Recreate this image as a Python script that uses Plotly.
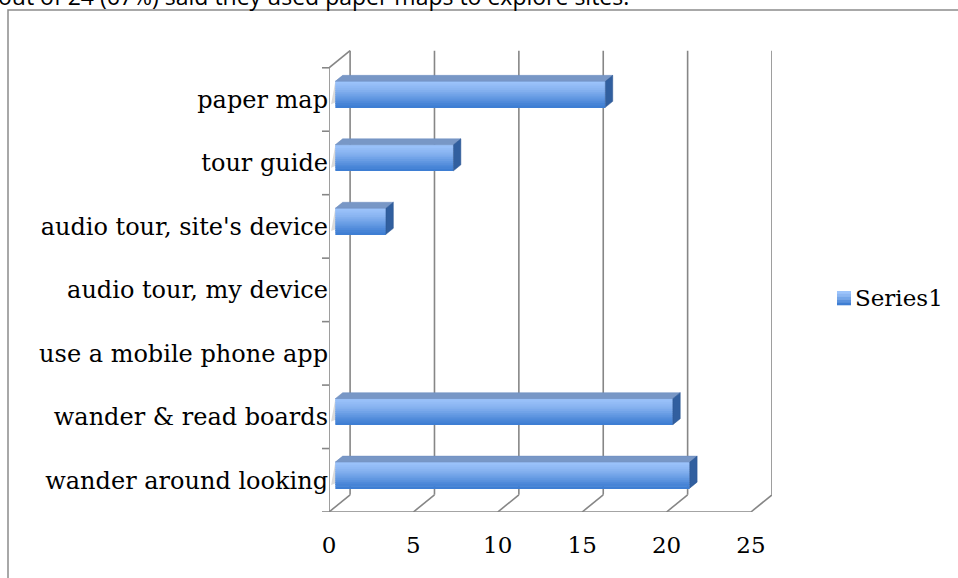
import plotly.graph_objects as go

# ---- data ----
categories = ["wander around looking", "wander & read boards", "use a mobile phone app",
              "audio tour, my device", "audio tour, site's device", "tour guide", "paper map"]
values = [21, 20, 0, 0, 3, 7, 16]
x_ticks = [0, 5, 10, 15, 20, 25]
series_name = "Series1"
header_text = "out of 24 (67%) said they used paper maps to explore sites."

# ---- geometry (3D look) ----
W, H = 958, 578
L, R, T, B = 329, 186, 50, 66
XMAX = 25
DX, DY = 1.25, 0.27          # depth offset in data units
FRONT, BACK = 0.30, 0.65     # bar depth fractions
BW = 0.41                    # bar thickness
n = len(categories)
yr = [-0.5, n - 0.5 + DY + 0.01]
xr = [0, XMAX + DX]
grid = "#868686"
FONT = "DejaVu Serif"
pw, ph = W - L - R, H - T - B

fig = go.Figure()

top_c = (0x9d, 0xc4, 0xfb)
mid_c = (0x86, 0xb2, 0xf0)
bot_c = (0x3e, 0x7e, 0xd3)
def lerp(a, b, t):
    return tuple(int(round(a[k] + (b[k] - a[k]) * t)) for k in range(3))
def grad(t):
    return lerp(top_c, mid_c, t / 0.35) if t < 0.35 else lerp(mid_c, bot_c, (t - 0.35) / 0.65)

N = 14
bx0 = FRONT * DX
by = [i + FRONT * DY for i in range(n)]
for s in range(N):
    t = s / (N - 1)
    c = grad(t)
    yc = [b + BW / 2 - (s + 0.5) * BW / N for b in by]
    fig.add_trace(go.Bar(
        x=values, y=yc, base=[bx0] * n, orientation="h",
        width=BW / N * 1.6 if s < N - 1 else BW / N,
        marker=dict(color="rgb(%d,%d,%d)" % c, line=dict(width=0)),
        name=series_name, showlegend=False, hoverinfo="skip"))

shapes = []
def line(x0, y0, x1, y1, w=1.6, color=grid, layer="below"):
    shapes.append(dict(type="line", xref="x", yref="y", x0=x0, y0=y0, x1=x1, y1=y1,
                       line=dict(color=color, width=w), layer=layer))

ybot, ytop = -0.5, n - 0.5
for k in x_ticks:
    line(k + DX, ybot + DY, k + DX, ytop + DY)
    line(k, ybot, k + DX, ybot + DY)
line(0, ybot, XMAX, ybot)
for k in x_ticks:
    line(k, ybot, k, ybot - 0.1, layer="above")
line(0, ybot, 0, ytop)
line(0, ytop, DX, ytop + DY)
for i in range(n + 1):
    shapes.append(dict(type="line", xref="paper", yref="y", x0=-7 / pw, x1=0,
                       y0=ybot + i, y1=ybot + i, line=dict(color=grid, width=1.6)))

ddx, ddy = (BACK - FRONT) * DX, (BACK - FRONT) * DY
for v, b in zip(values, by):
    if v <= 0:
        continue
    x0, x1 = bx0, bx0 + v
    yt, yb = b + BW / 2, b - BW / 2
    shapes.append(dict(type="path", xref="x", yref="y", layer="below",
                       path=f"M{x0-0.25},{yb+0.05} L{x0},{yt} L{x0+ddx},{yt+ddy} L{x0+ddx-0.25},{yb+ddy} Z",
                       fillcolor="rgba(150,150,150,0.35)", line=dict(width=0)))
    shapes.append(dict(type="path", xref="x", yref="y", layer="above",
                       path=f"M{x0},{yt} L{x1},{yt} L{x1+ddx},{yt+ddy} L{x0+ddx},{yt+ddy} Z",
                       fillcolor="#7897c6", line=dict(color="#6d8dc0", width=0.5)))
    shapes.append(dict(type="path", xref="x", yref="y", layer="above",
                       path=f"M{x1},{yt} L{x1+ddx},{yt+ddy} L{x1+ddx},{yb+ddy} L{x1},{yb} Z",
                       fillcolor="#315f9f", line=dict(color="#2a5590", width=0.5)))

# outer frame
shapes.append(dict(type="rect", xref="paper", yref="paper",
                   x0=(8 - L) / pw, x1=(W + 20 - L) / pw,
                   y0=-(H + 20 - T - ph) / ph, y1=1 + (T - 10) / ph,
                   line=dict(color="#8c8c8c", width=1.5)))

# manual legend (icon with gradient + text)
lx0, lx1, lyt, lyb = 837, 851, 291, 305
NL = 5
for s in range(NL):
    c = grad(s / (NL - 1))
    y0p = lyt + s * (lyb - lyt) / NL
    y1p = lyt + (s + 1) * (lyb - lyt) / NL
    shapes.append(dict(type="rect", xref="paper", yref="paper",
                       x0=(lx0 - L) / pw, x1=(lx1 - L) / pw,
                       y0=(H - B - y1p - 0.3) / ph, y1=(H - B - y0p) / ph,
                       fillcolor="rgb(%d,%d,%d)" % c, line=dict(width=0)))

annotations = [
    dict(text=header_text, xref="paper", yref="paper",
         x=(-4 - L) / pw, y=1 + (T + 4) / ph, xanchor="left", yanchor="middle",
         showarrow=False, font=dict(family="Open Sans", size=23, color="#000")),
    dict(text=series_name, xref="paper", yref="paper",
         x=(853 - L) / pw, y=(H - B - 298) / ph, xanchor="left", yanchor="middle",
         showarrow=False, font=dict(family=FONT, size=23, color="#000")),
]

fig.update_layout(
    width=W, height=H, margin=dict(l=L, r=R, t=T, b=B),
    paper_bgcolor="white", plot_bgcolor="white",
    barmode="overlay", shapes=shapes, annotations=annotations,
    font=dict(family=FONT, size=24, color="#000"),
    showlegend=False,
    xaxis=dict(range=xr, tickvals=x_ticks, ticktext=[str(k) for k in x_ticks],
               showgrid=False, zeroline=False, showline=False, ticks="",
               ticklabelstandoff=17,
               tickfont=dict(family=FONT, size=23), fixedrange=True),
    yaxis=dict(range=yr, tickvals=list(range(n)), ticktext=categories,
               showgrid=False, zeroline=False, showline=False, ticks="",
               tickfont=dict(family=FONT, size=24), fixedrange=True),
)

fig.write_html("out.html")
